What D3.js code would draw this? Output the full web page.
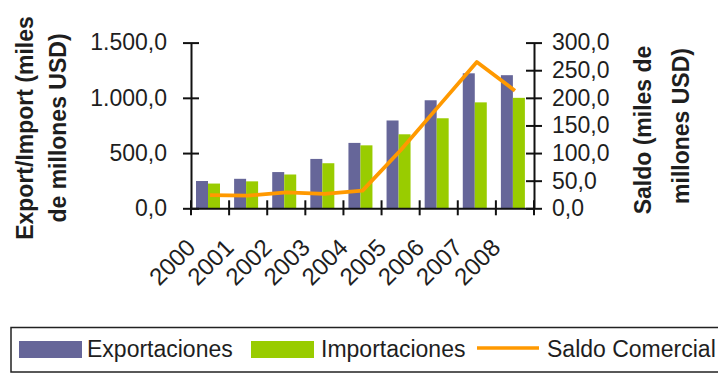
<!DOCTYPE html>
<html>
<head>
<meta charset="utf-8">
<script src="https://cdn.jsdelivr.net/npm/d3@7"></script>
<style>
  html, body { margin: 0; padding: 0; background: #fff; }
  svg { display: block; }
  text { font-family: "Liberation Sans", Arial, sans-serif; fill: #1e1e1e; }
</style>
</head>
<body>
<svg id="chart" width="718" height="374"></svg>
<script>
// Trade data (miles de millones USD)
const years = ["2000", "2001", "2002", "2003", "2004", "2005", "2006", "2007", "2008"];
const exportaciones = [247, 267, 328, 447, 592, 795, 978, 1222, 1205];
const importaciones = [224, 244, 306, 408, 570, 670, 815, 959, 1000];
const saldo = [24, 23, 29, 26, 32, 105, 185, 265, 213];

const leftTicks = [0, 500, 1000, 1500];
const rightTicks = [0, 50, 100, 150, 200, 250, 300];
const seriesNames = ["Exportaciones", "Importaciones", "Saldo Comercial"];
const colors = { exp: "#666699", imp: "#99cc00", saldo: "#ff9900" };

const locale = d3.formatLocale({ decimal: ",", thousands: ".", grouping: [3], currency: ["", ""] });
const fmt = locale.format(",.1f");

const svg = d3.select("#chart");

const plot = { left: 191, right: 534, top: 42.6, bottom: 208.3 };

const x0 = d3.scaleBand().domain(years).range([plot.left, plot.right]).padding(0);
const x1 = d3.scaleBand().domain(["exp", "imp"]).range([5, 29]).padding(0);
const yL = d3.scaleLinear().domain([0, 1500]).range([plot.bottom, plot.top]);
const yR = d3.scaleLinear().domain([0, 300]).range([plot.bottom, plot.top]);

// Bars
const groups = svg.append("g").selectAll("g")
  .data(years)
  .join("g")
  .attr("transform", d => `translate(${x0(d)},0)`);

groups.append("rect")
  .attr("x", x1("exp"))
  .attr("width", x1.bandwidth())
  .attr("y", (d, i) => yL(exportaciones[i]))
  .attr("height", (d, i) => plot.bottom - yL(exportaciones[i]))
  .attr("fill", colors.exp);

groups.append("rect")
  .attr("x", x1("imp"))
  .attr("width", x1.bandwidth())
  .attr("y", (d, i) => yL(importaciones[i]))
  .attr("height", (d, i) => plot.bottom - yL(importaciones[i]))
  .attr("fill", colors.imp);

// Left axis
const axL = svg.append("g")
  .attr("transform", `translate(${plot.left},0)`)
  .call(d3.axisLeft(yL).tickValues(leftTicks).tickFormat(fmt).tickSizeInner(8).tickSizeOuter(0).tickPadding(16));
axL.selectAll(".tick").append("line").attr("x2", 8).attr("stroke", "#111");

// Right axis
const axR = svg.append("g")
  .attr("transform", `translate(${plot.right},0)`)
  .call(d3.axisRight(yR).tickValues(rightTicks).tickFormat(fmt).tickSizeInner(8).tickSizeOuter(0).tickPadding(10));
axR.selectAll(".tick").append("line").attr("x2", -8).attr("stroke", "#111");

// Category axis with boundary ticks
const axX = svg.append("g")
  .attr("transform", `translate(0,${plot.bottom})`)
  .call(d3.axisBottom(x0).tickSizeOuter(0).tickSize(0).tickFormat(""));
const edges = years.map(d => x0(d)).concat([plot.right]);
axX.selectAll("line.edge")
  .data(edges)
  .join("line")
  .attr("class", "edge")
  .attr("x1", d => d).attr("x2", d => d)
  .attr("y1", -8).attr("y2", 7)
  .attr("stroke", "#111").attr("stroke-width", 2);

[axL, axR, axX].forEach(a => {
  a.select(".domain").attr("stroke", "#111").attr("stroke-width", 2);
  a.selectAll(".tick line").attr("stroke", "#111").attr("stroke-width", 2);
  a.selectAll(".tick text")
    .style("font-size", "23px")
    .style("font-family", "'Liberation Sans', Arial, sans-serif")
    .attr("fill", "#1e1e1e");
});

// Year labels, rotated
svg.append("g").selectAll("text")
  .data(years)
  .join("text")
  .attr("transform", d => `translate(${x0(d) + x0.bandwidth() / 2 - 13},249) rotate(-45)`)
  .attr("text-anchor", "end")
  .style("font-size", "24px")
  .text(d => d);

// Saldo line on the right scale
const line = d3.line()
  .x((d, i) => x0(years[i]) + x0.bandwidth() / 2)
  .y(d => yR(d));
svg.append("path")
  .datum(saldo)
  .attr("d", line)
  .attr("fill", "none")
  .attr("stroke", colors.saldo)
  .attr("stroke-width", 3.8)
  .attr("stroke-linejoin", "round");

// Axis titles
const leftTitle = ["Export/Import (miles", "de millones USD)"];
svg.append("g").selectAll("text")
  .data(leftTitle)
  .join("text")
  .attr("transform", (d, i) => `translate(${[33, 66][i]},128) rotate(-90)`)
  .attr("text-anchor", "middle")
  .style("font-size", "23px")
  .style("font-weight", "bold")
  .text(d => d);

const rightTitle = ["Saldo (miles de", "millones USD)"];
svg.append("g").selectAll("text")
  .data(rightTitle)
  .join("text")
  .attr("transform", (d, i) => `translate(${[651, 689][i]},${[130, 126][i]}) rotate(-90)`)
  .attr("text-anchor", "middle")
  .style("font-size", "23px")
  .style("font-weight", "bold")
  .text(d => d);

// Legend
const legend = svg.append("g");
legend.append("rect")
  .attr("x", 11).attr("y", 327.5)
  .attr("width", 730).attr("height", 44.5)
  .attr("fill", "#fff").attr("stroke", "#222").attr("stroke-width", 1.5);

const legendItems = [
  { name: seriesNames[0], type: "rect", color: colors.exp, x: 19, tx: 87 },
  { name: seriesNames[1], type: "rect", color: colors.imp, x: 251, tx: 321 },
  { name: seriesNames[2], type: "line", color: colors.saldo, x: 477, tx: 547 }
];
legendItems.forEach(it => {
  if (it.type === "rect") {
    legend.append("rect").attr("x", it.x).attr("y", 341).attr("width", 63).attr("height", 17).attr("fill", it.color);
  } else {
    legend.append("line").attr("x1", it.x).attr("x2", it.x + 62).attr("y1", 348).attr("y2", 348)
      .attr("stroke", it.color).attr("stroke-width", 3.5);
  }
  legend.append("text").attr("x", it.tx).attr("y", 357).style("font-size", "23px").text(it.name);
});
</script>
</body>
</html>
